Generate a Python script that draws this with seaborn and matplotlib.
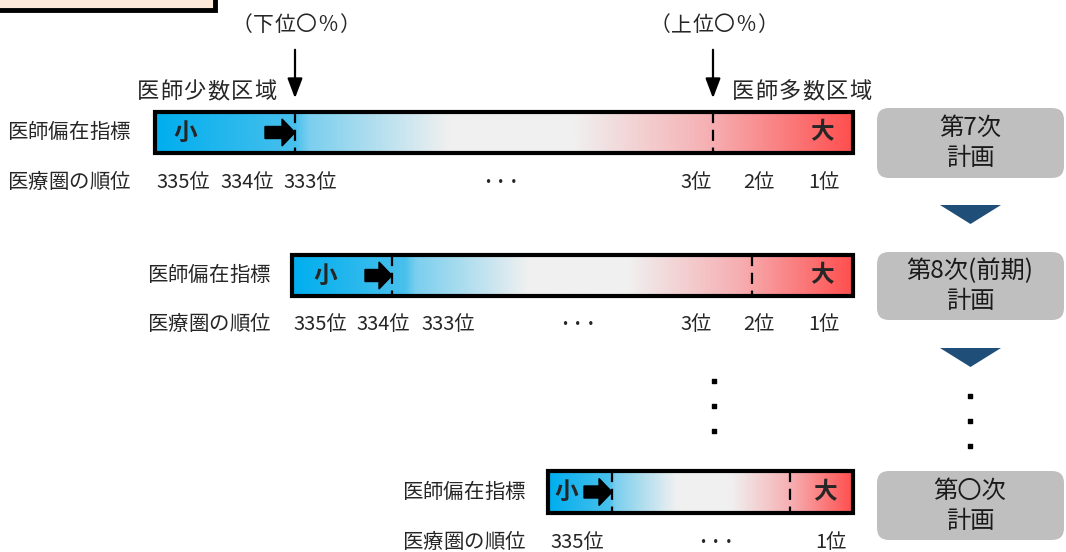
import numpy as np
import matplotlib
matplotlib.use("Agg")
import matplotlib.pyplot as plt
from matplotlib.colors import LinearSegmentedColormap
from matplotlib.patches import Rectangle, FancyBboxPatch, FancyArrow, Polygon
import seaborn as sns

sns.set_theme(style="white")
plt.rcParams['font.family'] = ['Noto Sans CJK JP', 'DejaVu Sans']

# --- content ---
plan_labels = ["第7次\n計画", "第8次(前期)\n計画", "第〇次\n計画"]
index_label = "医師偏在指標"
rank_label = "医療圏の順位"
low_mark, high_mark = "小", "大"
top_low, top_high = "（下位〇%）", "（上位〇%）"
area_low, area_high = "医師少数区域", "医師多数区域"
rank_rows = [
    ["335位", "334位", "333位", "・・・", "3位", "2位", "1位"],
    ["335位", "334位", "333位", "・・・", "3位", "2位", "1位"],
    ["335位", "・・・", "1位"],
]

# --- layout (pixel coordinates) ---
bar_x0 = [155, 292, 548]
bar_x1 = [853, 853, 853]
bar_y0 = [112, 255, 471]
bar_y1 = [153, 296, 513]
cut_low = [295, 392, 612]
cut_high = [713, 752, 790]
small_x = [185, 325, 566]
arrow_x0 = [265, 365, 584]
big_x = [822, 822, 825]
label_x = [130, 270, 525]
rank_y = [183, 325, 543]
rank_x = [
    [183, 247, 310, 501, 696, 759, 824],
    [320, 383, 448, 578, 696, 759, 824],
    [577, 716, 831],
]
box_y0 = [108, 252, 471]
box_y1 = [178, 320, 540]

cmap = LinearSegmentedColormap.from_list(
    "bias", [(0.0, "#00AEEF"), (0.2, "#48C0EC"), (0.22, "#7ACFEE"),
             (0.42, "#F0F0F0"), (0.6, "#F0F0F0"), (0.8, "#F6AEB1"),
             (1.0, "#FF4F4F")])


def spaced(ax, x, y, s, adv, ha="left", **kw):
    # place characters one by one with a fixed advance (letter spacing)
    total = adv * len(s)
    start = {"left": x, "right": x - total, "center": x - total / 2}[ha]
    for k, ch in enumerate(s):
        ax.text(start + adv * (k + 0.5), y, ch, ha="center", va="center", **kw)


fig = plt.figure(figsize=(10.66, 5.52), dpi=100)
ax = fig.add_axes([0, 0, 1, 1])
ax.set_xlim(0, 1066)
ax.set_ylim(552, 0)
ax.axis("off")

# partial box at top-left
ax.add_patch(Rectangle((-10, -10), 225, 20, facecolor="#FDE9D9",
                       edgecolor="black", lw=3.5, zorder=2))

# top annotations
spaced(ax, cut_low[0] + 1, 25, top_low, 21.5, ha="center", fontsize=15)
spaced(ax, cut_high[0] + 1, 25, top_high, 21.5, ha="center", fontsize=15)
for xc in (cut_low[0], cut_high[0]):
    ax.annotate("", xy=(xc, 101), xytext=(xc, 47),
                arrowprops=dict(arrowstyle="-|>,head_length=1.0,head_width=0.38",
                                color="black", lw=1.6))
spaced(ax, 277, 92, area_low, 23.5, ha="right", fontsize=16)
spaced(ax, 731, 92, area_high, 23.5, ha="left", fontsize=16)

grad = np.linspace(0, 1, 512)[None, :]
for i in range(3):
    x0, x1, y0, y1 = bar_x0[i], bar_x1[i], bar_y0[i], bar_y1[i]
    yc = (y0 + y1) / 2
    ax.imshow(grad, cmap=cmap, extent=(x0, x1, y1, y0), aspect="auto",
              interpolation="bilinear", zorder=1)
    ax.add_patch(Rectangle((x0, y0), x1 - x0, y1 - y0, facecolor="none",
                           edgecolor="black", lw=3, zorder=4))
    for xc in (cut_low[i], cut_high[i]):
        ax.plot([xc, xc], [y0, y1], color="black", lw=1.6,
                linestyle=(0, (5, 3)), zorder=3)
    ax.text(small_x[i], yc, low_mark, ha="center", va="center",
            fontsize=17, fontweight="bold", zorder=5)
    ax.text(big_x[i], yc, high_mark, ha="center", va="center",
            fontsize=17, fontweight="bold", zorder=5)
    ax.add_patch(FancyArrow(arrow_x0[i], yc, cut_low[i] - arrow_x0[i] - 13, 0,
                            width=12, head_width=27, head_length=13,
                            length_includes_head=False, color="black", zorder=5))
    spaced(ax, label_x[i], yc, index_label, 20.5, ha="right", fontsize=14.7)
    spaced(ax, label_x[i], rank_y[i], rank_label, 20.5, ha="right", fontsize=14.7)
    for lab, xr in zip(rank_rows[i], rank_x[i]):
        if lab == "・・・":
            ax.text(xr, rank_y[i], lab, ha="center", va="center", fontsize=9.5,
                    fontweight="bold")
        else:
            ax.text(xr, rank_y[i], lab, ha="center", va="center", fontsize=14.5)

    # plan boxes
    ax.add_patch(FancyBboxPatch((877, box_y0[i]), 187, box_y1[i] - box_y0[i],
                                boxstyle="round,pad=0,rounding_size=12",
                                facecolor="#BFBFBF", edgecolor="none", zorder=2))
    ax.text(970, (box_y0[i] + box_y1[i]) / 2, plan_labels[i], ha="center",
            va="center", fontsize=17.5, linespacing=1.2, color="#1A1A1A", zorder=3)

# navy down triangles
for yt in (205, 348):
    ax.add_patch(Polygon([(940, yt), (1001, yt), (970.5, yt + 19)],
                         closed=True, facecolor="#1F4E79", edgecolor="none"))

# vertical ellipsis dots
ax.scatter([714, 714, 714], [381, 406, 431], marker="s", s=8, color="black")
ax.scatter([970, 970, 970], [396, 421, 446], marker="s", s=8, color="black")

fig.savefig("out.png", dpi=100)
